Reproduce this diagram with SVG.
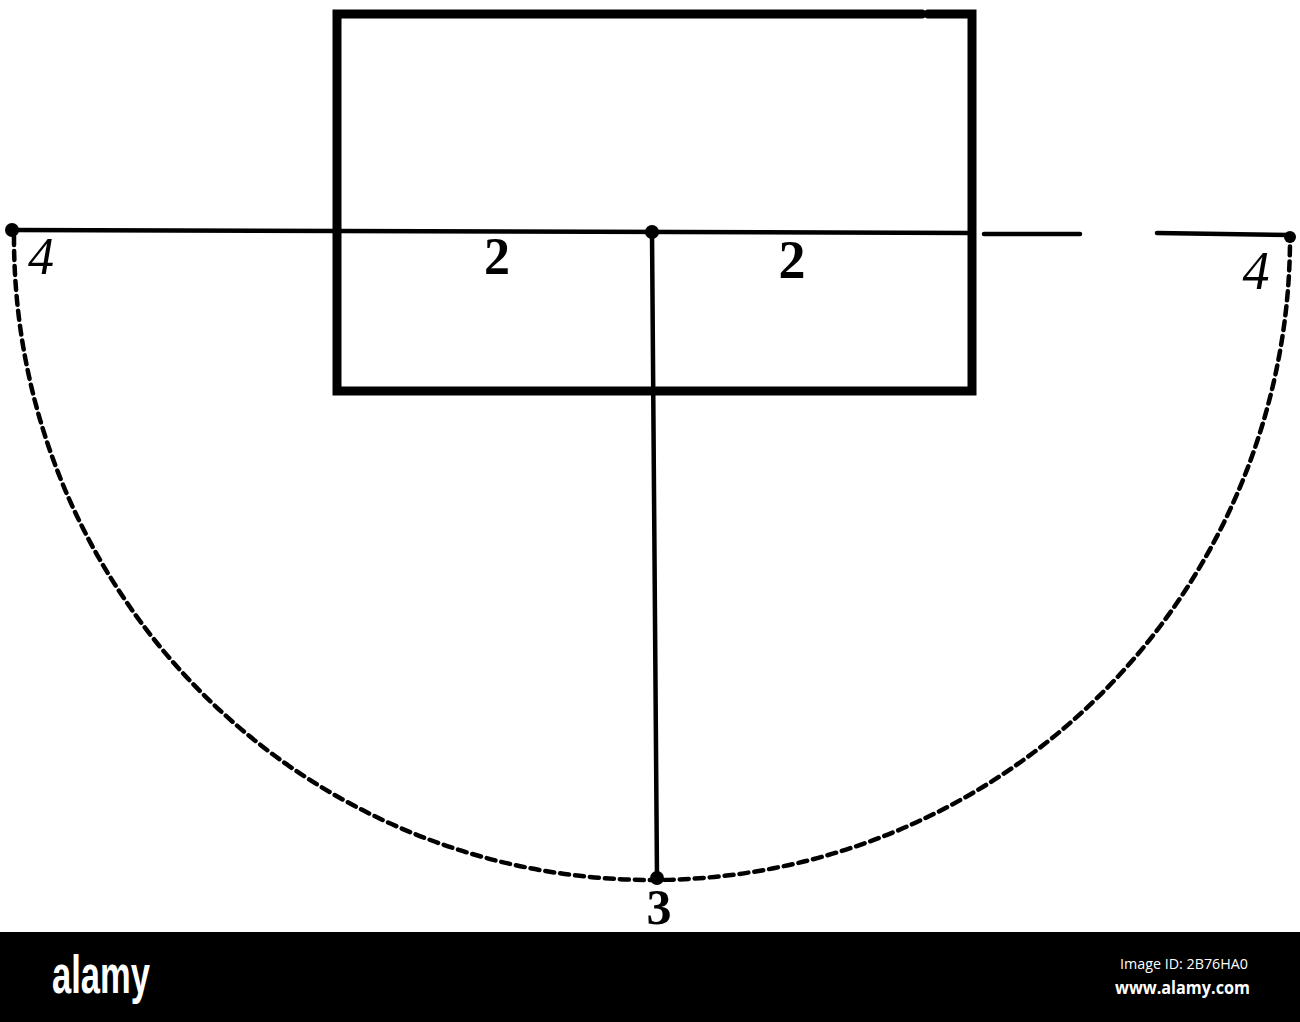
<svg xmlns="http://www.w3.org/2000/svg" width="1300" height="1022" viewBox="0 0 1300 1022">
<style>
.ln{stroke:#000;fill:none;stroke-linecap:round}
.bold2{font-family:"Liberation Serif",serif;font-weight:bold;fill:#000}
.hand{font-family:"Liberation Serif",serif;font-style:italic;fill:#000}
</style>
<rect width="1300" height="1022" fill="#fff"/>
<g id="rectangle">
<path class="ln" d="M928 14 H972 V391 H337 V14 H922" stroke-width="9" stroke-linejoin="miter" stroke-linecap="butt"/>
</g>
<g id="connectors">
<path class="ln" d="M12 230 L972 233" stroke-width="4.5"/>
<path class="ln" d="M984 234 L1080 234" stroke-width="4.5"/>
<path class="ln" d="M1157 233 L1290 235" stroke-width="4.5"/>
<path class="ln" d="M652 232 L657 878" stroke-width="4.5"/>
<path class="ln" d="M14 236 A638 642 0 0 0 1290 240" stroke-width="4.5" stroke-dasharray="9 6" stroke-linecap="butt"/>
</g>
<g id="points">
<circle cx="12" cy="230" r="7"/>
<circle cx="652" cy="232" r="7"/>
<circle cx="657" cy="878" r="7"/>
<circle cx="1290" cy="237" r="6"/>
</g>
<g id="labels">
<text class="hand" x="41" y="274" font-size="52" text-anchor="middle">4</text>
<text class="hand" x="1256" y="289" font-size="54" text-anchor="middle">4</text>
<text class="bold2" x="497" y="274" font-size="52" text-anchor="middle">2</text>
<text class="bold2" x="792" y="278" font-size="54" text-anchor="middle">2</text>
<text class="bold2" x="659" y="924" font-size="50" text-anchor="middle">3</text>
</g>
<g id="footer">
<rect x="0" y="932" width="1300" height="90" fill="#000"/>
<text x="52" y="993" font-family="Liberation Sans Narrow, Liberation Sans, sans-serif" font-weight="bold" font-size="54" fill="#fff" textLength="98" lengthAdjust="spacingAndGlyphs">alamy</text>
<text x="1120" y="969" font-family="Open Sans, sans-serif" font-size="14" fill="#fff" textLength="128" lengthAdjust="spacingAndGlyphs">Image ID: 2B76HA0</text>
<text x="1115" y="994" font-family="Open Sans, sans-serif" font-weight="bold" font-size="17" fill="#fff" textLength="135" lengthAdjust="spacingAndGlyphs">www.alamy.com</text>
</g>
</svg>
